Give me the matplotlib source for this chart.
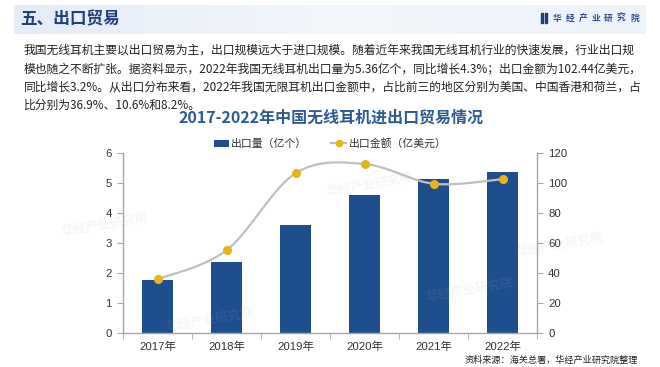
import numpy as np
import matplotlib

matplotlib.use("Agg")
import matplotlib.pyplot as plt
from matplotlib.patches import Rectangle

plt.rcParams["font.family"] = ["Noto Sans CJK SC", "DejaVu Sans"]

# Data
years = ["2017年", "2018年", "2019年", "2020年", "2021年", "2022年"]
export_volume = [1.78, 2.36, 3.61, 4.59, 5.13, 5.36]      # 亿个
export_value = [35.9, 55.2, 106.3, 112.5, 99.4, 102.44]   # 亿美元

left_ticks = [0, 1, 2, 3, 4, 5, 6]
right_ticks = [0, 20, 40, 60, 80, 100, 120]

section_title = "五、出口贸易"
brand = "华经产业研究院"
body_lines = [
    "我国无线耳机主要以出口贸易为主，出口规模远大于进口规模。随着近年来我国无线耳机行业的快速发展，行业出口规",
    "模也随之不断扩张。据资料显示，2022年我国无线耳机出口量为5.36亿个，同比增长4.3%；出口金额为102.44亿美元，",
    "同比增长3.2%。从出口分布来看，2022年我国无限耳机出口金额中，占比前三的地区分别为美国、中国香港和荷兰，占",
    "比分别为36.9%、10.6%和8.2%。",
]
chart_title = "2017-2022年中国无线耳机进出口贸易情况"
source_note = "资料来源：海关总署，华经产业研究院整理"

W, H = 660, 367
BAR_COLOR = "#1F4E8F"
LINE_COLOR = "#BFBFBF"
DOT_COLOR = "#E6B619"
AXIS_COLOR = "#A6A6A6"
NUM_FONT = ["Liberation Sans", "Noto Sans CJK SC"]


def fx(px):
    return px / W


def fy(py):
    return 1 - py / H


def smooth_curve(ax, xs, ys, n=40):
    """Excel-like smoothed line, built in pixel space then mapped back."""
    pts = ax.transData.transform(np.column_stack([xs, ys]))
    segs = []
    for i in range(len(pts) - 1):
        p0 = pts[max(i - 1, 0)]
        p1 = pts[i]
        p2 = pts[i + 1]
        p3 = pts[min(i + 2, len(pts) - 1)]
        c1 = p1 + (p2 - p0) / 6
        c2 = p2 - (p3 - p1) / 6
        t = np.linspace(0, 1, n)[:, None]
        seg = (1 - t) ** 3 * p1 + 3 * (1 - t) ** 2 * t * c1 + 3 * (1 - t) * t ** 2 * c2 + t ** 3 * p2
        segs.append(seg if i == 0 else seg[1:])
    curve = ax.transData.inverted().transform(np.vstack(segs))
    return curve[:, 0], curve[:, 1]


fig = plt.figure(figsize=(W / 100, H / 100), dpi=100)
fig.patch.set_facecolor("white")

# Header band with a soft gradient
band = fig.add_axes([fx(14), fy(34), fx(632), (34 - 5) / H])
grad = np.linspace(0, 1, 256)[None, :]
band.imshow(grad, aspect="auto", cmap=matplotlib.colors.LinearSegmentedColormap.from_list(
    "band", ["#E4ECF7", "#F3F6FB", "#EEF3FA"]), extent=[0, 1, 0, 1])
band.axis("off")

fig.text(fx(20), fy(19), section_title, fontsize=12, fontweight="bold",
         color="#1F3F77", va="center", ha="left")
fig.patches.append(Rectangle((fx(541), fy(22.5)), fx(2.3), 9 / H, transform=fig.transFigure,
                             color="#1F3F77"))
fig.patches.append(Rectangle((fx(544.5), fy(22.5)), fx(2.3), 9 / H, transform=fig.transFigure,
                             color="#1F3F77"))
for i, ch in enumerate(brand):
    fig.text(fx(557 + i * 12.9), fy(18), ch, fontsize=6.3, fontweight="bold",
             color="#2F4F8F", va="center", ha="center")

# Body text
for i, line in enumerate(body_lines):
    fig.text(fx(24), fy(50 + i * 18.5), line, fontsize=8.5, color="#222222",
             va="center", ha="left")

fig.text(fx(331), fy(118), chart_title, fontsize=11.5, fontweight="bold",
         color="#2E5A93", va="center", ha="center")

# Faint watermarks
for (wx, wy) in [(105, 225), (370, 185), (210, 320), (560, 245), (470, 290)]:
    fig.text(fx(wx), fy(wy), "华经产业研究院", fontsize=9, fontweight="bold",
             color="#9FB3CF", alpha=0.12, rotation=10, ha="center", va="center")

# Main chart
ax = fig.add_axes([fx(123), fy(333.3), fx(537 - 123), (333.3 - 152.7) / H])
x = np.arange(len(years))
bars = ax.bar(x, export_volume, width=0.44, color=BAR_COLOR, zorder=2, label="出口量（亿个）")
ax.set_xlim(-0.5, len(years) - 0.5)
ax.set_ylim(0, 6)
ax.set_yticks(left_ticks)
ax.set_yticklabels([str(t) for t in left_ticks], family=NUM_FONT, fontsize=8.2, color="#333333")
ax.set_xticks(x)
ax.set_xticklabels(years, family=NUM_FONT, fontsize=8.2, color="#333333")
ax.set_xticks(np.arange(-0.5, len(years)), minor=True)
ax.tick_params(axis="x", which="major", length=0, pad=6)
ax.tick_params(axis="x", which="minor", length=4, color=AXIS_COLOR, direction="out")
ax.tick_params(axis="y", length=4, color=AXIS_COLOR, direction="out", pad=4)
for side in ["top", "right"]:
    ax.spines[side].set_visible(False)
for side in ["left", "bottom"]:
    ax.spines[side].set_color(AXIS_COLOR)
    ax.spines[side].set_linewidth(1)

ax2 = ax.twinx()
ax2.set_ylim(0, 120)
ax2.set_yticks(right_ticks)
ax2.set_yticklabels([str(t) for t in right_ticks], family=NUM_FONT, fontsize=8.2, color="#333333")
ax2.tick_params(axis="y", length=4, color=AXIS_COLOR, direction="out", pad=4)
for side in ["top", "left", "bottom"]:
    ax2.spines[side].set_visible(False)
ax2.spines["right"].set_color(AXIS_COLOR)
ax2.spines["right"].set_linewidth(1)

sx, sy = smooth_curve(ax2, x, export_value)
ax2.plot(sx, sy, color=LINE_COLOR, linewidth=1.6, zorder=3)
ax2.plot(x, export_value, "o", color=DOT_COLOR, markersize=5.5, zorder=4)

# Legend proxy for the line with marker
line_handle, = ax2.plot([], [], color=LINE_COLOR, linewidth=1.6, marker="o",
                        markerfacecolor=DOT_COLOR, markeredgecolor=DOT_COLOR, markersize=4.5,
                        label="出口金额（亿美元）")
ax2.legend([bars, line_handle], ["出口量（亿个）", "出口金额（亿美元）"], loc="center",
           bbox_to_anchor=(0.5, 1.05), ncol=2, frameon=False, fontsize=7.8,
           handlelength=1.4, handleheight=0.6, handletextpad=0.2, columnspacing=2.2,
           labelcolor="#333333")

fig.text(fx(638), fy(360), source_note, fontsize=6.6, color="#222222",
         ha="right", va="center")

fig.savefig("out.png", dpi=100)
